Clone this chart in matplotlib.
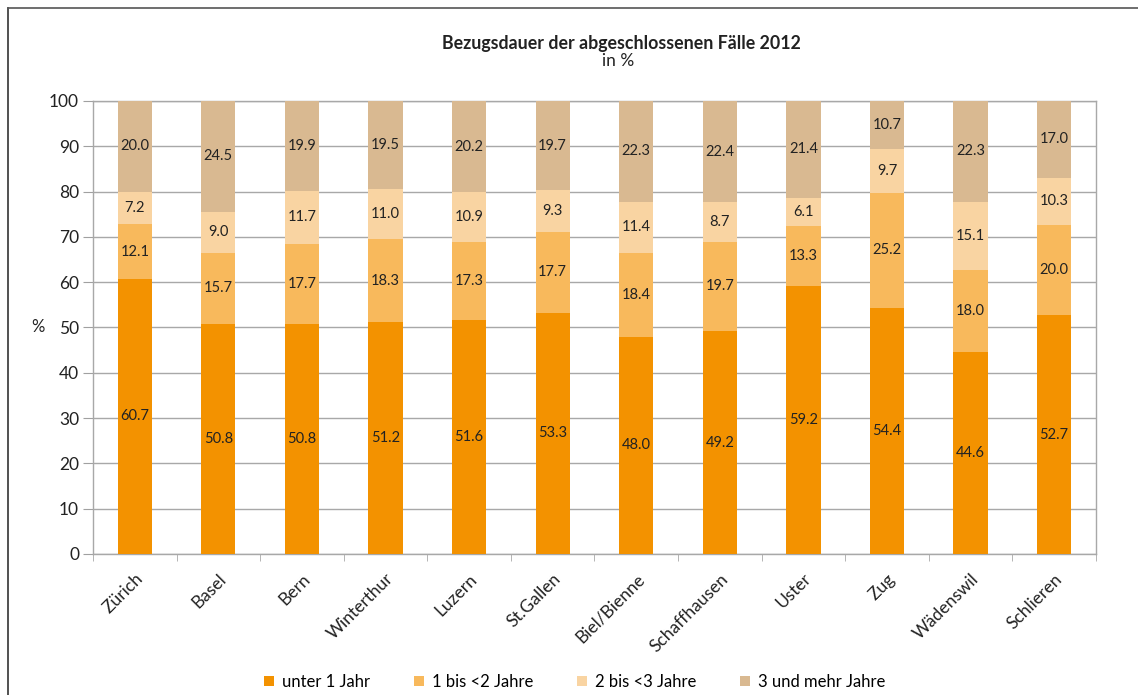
import matplotlib
matplotlib.use("Agg")
import matplotlib.pyplot as plt
from matplotlib.lines import Line2D
from matplotlib.patches import Patch
import numpy as np

plt.rcParams['font.family'] = ['Lato', 'DejaVu Sans']

cities = ["Zürich", "Basel", "Bern", "Winterthur", "Luzern", "St.Gallen", "Biel/Bienne",
          "Schaffhausen", "Uster", "Zug", "Wädenswil", "Schlieren"]
unter1 = [60.7, 50.8, 50.8, 51.2, 51.6, 53.3, 48.0, 49.2, 59.2, 54.4, 44.6, 52.7]
bis2 = [12.1, 15.7, 17.7, 18.3, 17.3, 17.7, 18.4, 19.7, 13.3, 25.2, 18.0, 20.0]
bis3 = [7.2, 9.0, 11.7, 11.0, 10.9, 9.3, 11.4, 8.7, 6.1, 9.7, 15.1, 10.3]
mehr3 = [20.0, 24.5, 19.9, 19.5, 20.2, 19.7, 22.3, 22.4, 21.4, 10.7, 22.3, 17.0]
series_names = ["unter 1 Jahr", "1 bis <2 Jahre", "2 bis <3 Jahre", "3 und mehr Jahre"]
colors = ["#F39200", "#F8B95C", "#F9D4A2", "#D9B991"]
yticks = [0, 10, 20, 30, 40, 50, 60, 70, 80, 90, 100]

fig = plt.figure(figsize=(11.38, 6.95), dpi=100)
ax = fig.add_axes([0.0817, 0.2029, 0.8813, 0.6518])

x = np.arange(len(cities))
bottom = np.zeros(len(cities))
for vals, col in zip([unter1, bis2, bis3, mehr3], colors):
    v = np.array(vals)
    ax.bar(x, v, bottom=bottom, width=0.41, color=col, zorder=3)
    for xi, b, vi in zip(x, bottom, v):
        ax.text(xi, b + vi / 2, f"{vi:.1f}", ha='center', va='center', fontsize=10.5,
                color='#222222', zorder=4)
    bottom = bottom + v

ax.set_xlim(-0.5, len(cities) - 0.5)
ax.set_ylim(0, 100)
ax.set_yticks(yticks)
ax.tick_params(axis='y', labelsize=12.5, length=7, color='#a0a0a0', pad=3, labelcolor='#222222')
ax.yaxis.grid(True, color='#a8a8a8', linewidth=1, zorder=0)
ax.set_axisbelow(True)
for s in ['top', 'right', 'left', 'bottom']:
    ax.spines[s].set_color('#a8a8a8')
    ax.spines[s].set_linewidth(1)

ax.set_xticks(x)
ax.set_xticklabels(cities, rotation=45, ha='right', rotation_mode='anchor', fontsize=12.5,
                   color='#222222')
ax.tick_params(axis='x', which='major', length=0, pad=12)
ax.set_xticks(np.arange(-0.5, len(cities), 1.0), minor=True)
ax.tick_params(axis='x', which='minor', length=5, color='#a8a8a8')

ax.set_ylabel("%", rotation=0, fontsize=12, va='center', ha='center', color='#222222')
ax.yaxis.set_label_coords(-0.0548, 0.5)

fig.text(0.546, 0.938, "Bezugsdauer der abgeschlossenen Fälle 2012", ha='center', va='center',
         fontsize=12.8, fontweight='bold', color='#222222')
fig.text(0.543, 0.912, "in %", ha='center', va='center', fontsize=12.5, color='#222222')

handles = [Patch(facecolor=c, edgecolor='none') for c in colors]
fig.legend(handles, series_names, loc='center', bbox_to_anchor=(0.505, 0.019), ncol=4,
           frameon=False, fontsize=12, handlelength=0.6, handleheight=0.6,
           handletextpad=0.5, columnspacing=2.6)

fig.add_artist(Line2D([0.007, 0.007], [0, 0.988], transform=fig.transFigure, color='#333333', lw=1.2))
fig.add_artist(Line2D([0.007, 1.0], [0.988, 0.988], transform=fig.transFigure, color='#555555', lw=1.2))

fig.savefig("out.png", dpi=100)
